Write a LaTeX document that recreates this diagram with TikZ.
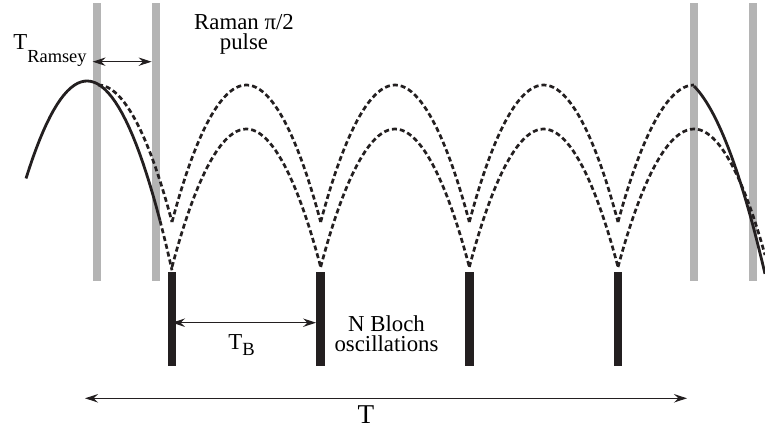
\documentclass[tikz,border=0pt]{standalone}
\usepackage{fontspec}
\setmainfont{Liberation Serif}
\usetikzlibrary{arrows.meta}
\definecolor{ink}{RGB}{35,31,32}
\definecolor{pulse}{RGB}{180,180,180}

\begin{document}
\begin{tikzpicture}[x=0.5pt,y=-0.5pt,font=\rmfamily\fontsize{11.4}{10}\selectfont,
 gbar/.style={fill=pulse,draw=none,minimum width=4pt,minimum height=139pt,inner sep=0pt},
 bbar/.style={fill=ink,draw=none,minimum width=4.2pt,minimum height=46.75pt,inner sep=0pt},
 traj/.style={draw=ink,line width=1.4pt},
 arm/.style={draw=ink,line width=1.35pt,dash pattern=on 2.5pt off 1.5pt},
 dim/.style={draw=ink,line width=0.55pt,{Stealth[length=6.5pt,width=4.2pt,inset=2.2pt]}-{Stealth[length=6.5pt,width=4.2pt,inset=2.2pt]}},
 lbl/.style={inner sep=0pt,align=center}]
 \useasboundingbox (0,0) rectangle (765,431);
 % Raman pulses
 \foreach \x/\name in {97/g1,156/g2,694/g3,753/g4}
   \node[gbar] (\name) at (\x,142) {};
 % trajectories before the Bloch pulses
 \draw[traj] plot[domain=26:160,samples=40] (\x,{81+0.0262*(\x-87)^2});
 \draw[arm] plot[domain=160:172,samples=5] (\x,{81+0.0262*(\x-87)^2});
 \draw[arm] (98,85) parabola (172,222);
 % arcs between the Bloch pulses
 \foreach \i in {0,...,2}{
   \pgfmathsetmacro{\xa}{172+\i*148.67}
   \pgfmathsetmacro{\xm}{\xa+74.33}
   \pgfmathsetmacro{\xb}{\xa+148.67}
   \draw[arm] (\xa,222) parabola bend (\xm,85) (\xb,222);
   \draw[arm] (\xa,267) parabola bend (\xm,129) (\xb,267);
 }
 % last arcs and exit
 \draw[arm] (618,222) parabola[bend at end] (694,85);
 \draw[arm] (618,267) parabola[bend at end] (694,129) parabola (765,255);
 \draw[traj] plot[domain=694:765,samples=30] (\x,{75+0.023*(\x-672)^2});
 % Bloch pulses
 \foreach \i in {1,...,4}
   \node[bbar] (b\i) at ({172+(\i-1)*148.67},319.25) {};
 % intervals
 \coordinate (ry) at (0,61.7);
 \coordinate (by) at (0,322.7);
 \coordinate (tl) at (85,398.3);
 \coordinate (tr) at (687,398.3);
 \draw[dim] (g1.west |- ry) -- (g2.west |- ry);
 \draw[dim] (b1 |- by) -- (b2.west |- by);
 \draw[dim] (tl) -- (tr);
 % labels
 \node[lbl,anchor=base west] (ramsey) at (13,50) {T\raisebox{-6.5pt}{\fontsize{9.2}{9}\selectfont Ramsey}};
 \node[lbl,anchor=base] (raman) at (244,50) {Raman π/2\\pulse};
 \node[lbl,anchor=base west] (tb) at (228,349.3) {T\raisebox{-3.2pt}{\fontsize{9.3}{9}\selectfont B}};
 \node[lbl,anchor=base] (bloch) at (386.5,351.7) {N Bloch\\oscillations};
 \node[lbl,anchor=base,font=\rmfamily\fontsize{13.6}{14}\selectfont] (total) at (366,424) {T};
\end{tikzpicture}
\end{document}
